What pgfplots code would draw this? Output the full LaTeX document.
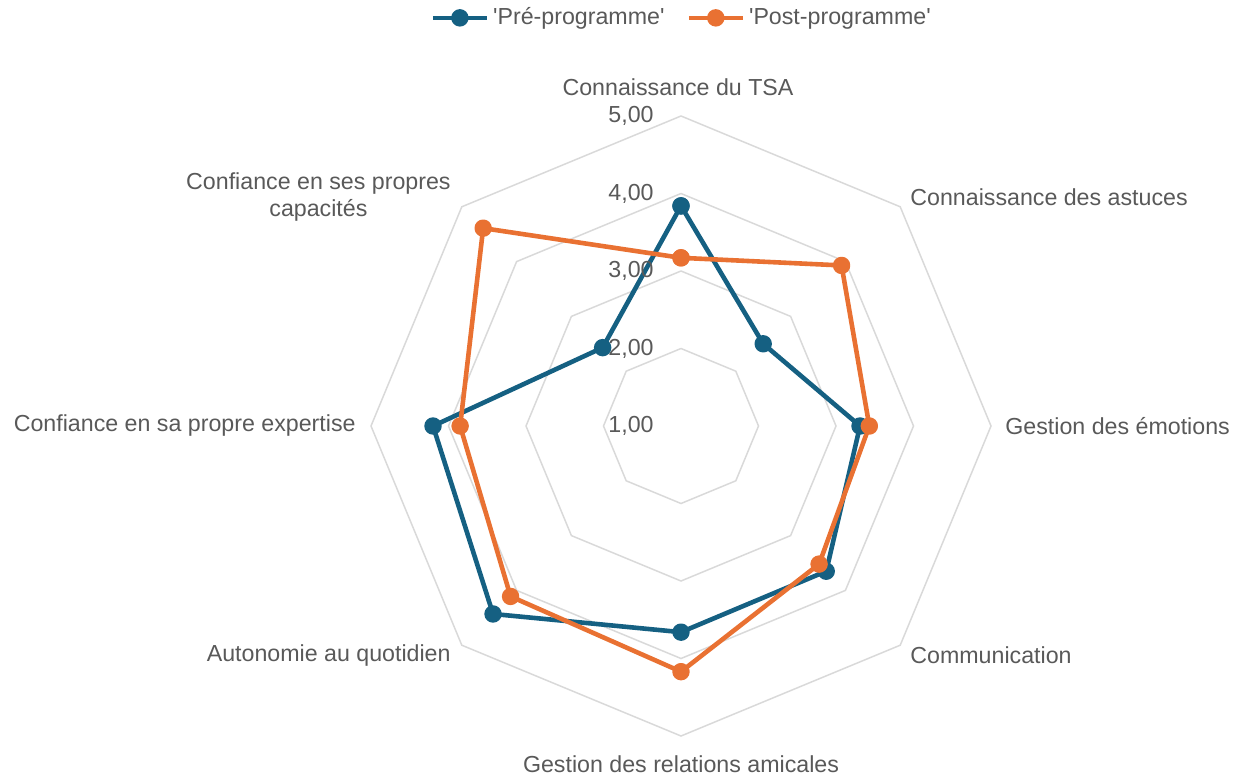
\documentclass[border=0pt]{standalone}
\usepackage{pgfplots}
\pgfplotsset{compat=1.18}
\usepackage{pgfplotstable}
\usepackage{fontspec}
\setmainfont{Liberation Sans}
\definecolor{cblue}{HTML}{156082}
\definecolor{corange}{HTML}{E97132}
\definecolor{ctext}{HTML}{595959}
\definecolor{cgrid}{HTML}{D9D9D9}

% angle (deg), value
\pgfplotstableread{
a v
90 3.84
45 2.50
0 3.31
-45 3.65
-90 3.66
-135 4.43
180 4.20
135 2.43
90 3.84
}\pre
\pgfplotstableread{
a v
90 3.17
45 3.93
0 3.43
-45 3.52
-90 4.17
-135 4.11
180 3.85
135 4.61
90 3.17
}\post
\pgfplotstableread{
a v2 v3 v4 v5
90 2 3 4 5
45 2 3 4 5
0 2 3 4 5
-45 2 3 4 5
-90 2 3 4 5
-135 2 3 4 5
180 2 3 4 5
135 2 3 4 5
90 2 3 4 5
}\rings

\begin{document}
\begin{tikzpicture}
\fontsize{11.6}{13.9}\selectfont
\begin{axis}[
  x=0.5pt, y=0.5pt,
  xmin=-681, xmax=575, ymin=-351, ymax=426,
  hide axis, clip=false,
  legend columns=2,
  legend style={draw=none, fill=none, at={(axis description cs:0.5435,0.977)}, anchor=center,
    font=\fontsize{11.6}{13.9}\selectfont\color{ctext}, /tikz/every even column/.append style={column sep=9pt},
    inner sep=0pt},
  legend image code/.code={\draw[mark repeat=2,mark phase=2] plot coordinates {(0pt,0pt) (13.5pt,0pt) (27pt,0pt)};},
]
\path (rel axis cs:0,0) rectangle (rel axis cs:1,1);
\foreach \c in {v2,v3,v4,v5}{
  \addplot[cgrid, line width=0.75pt, forget plot] table[
    x expr={(\thisrow{\c}-1)*77.5*cos(\thisrow{a})},
    y expr={(\thisrow{\c}-1)*77.5*sin(\thisrow{a})}]{\rings};
}
\addplot[cblue, line width=2.3pt, mark=*, mark size=3.2pt, line join=round] table[
  x expr={(\thisrow{v}-1)*77.5*cos(\thisrow{a})},
  y expr={(\thisrow{v}-1)*77.5*sin(\thisrow{a})}]{\pre};
\addlegendentry{\textquotesingle Pré-programme\textquotesingle}
\addplot[corange, line width=2.3pt, mark=*, mark size=3.2pt, line join=round] table[
  x expr={(\thisrow{v}-1)*77.5*cos(\thisrow{a})},
  y expr={(\thisrow{v}-1)*77.5*sin(\thisrow{a})}]{\post};
\addlegendentry{\textquotesingle Post-programme\textquotesingle}

\begin{scope}[every node/.style={text=ctext, font=\fontsize{11.6}{13.9}\selectfont, inner sep=0pt}]
\node[anchor=east] at (axis cs:-27,0) {1,00};
\node[anchor=east] at (axis cs:-27,77.5) {2,00};
\node[anchor=east] at (axis cs:-27,155) {3,00};
\node[anchor=east] at (axis cs:-27,232.5) {4,00};
\node[anchor=east] at (axis cs:-27,310) {5,00};

\node at (axis cs:-3,339) {Connaissance du TSA};
\node[anchor=west] at (axis cs:229,229) {Connaissance des astuces};
\node[anchor=west] at (axis cs:324,0) {Gestion des émotions};
\node[anchor=west] at (axis cs:229,-229) {Communication};
\node at (axis cs:0,-338) {Gestion des relations amicales};
\node[anchor=east] at (axis cs:-230,-229) {Autonomie au quotidien};
\node[anchor=east] at (axis cs:-325,0) {Confiance en sa propre expertise};
\node[anchor=east, align=center] at (axis cs:-230,229) {Confiance en ses propres\\capacités};
\end{scope}
\end{axis}
\end{tikzpicture}
\end{document}
